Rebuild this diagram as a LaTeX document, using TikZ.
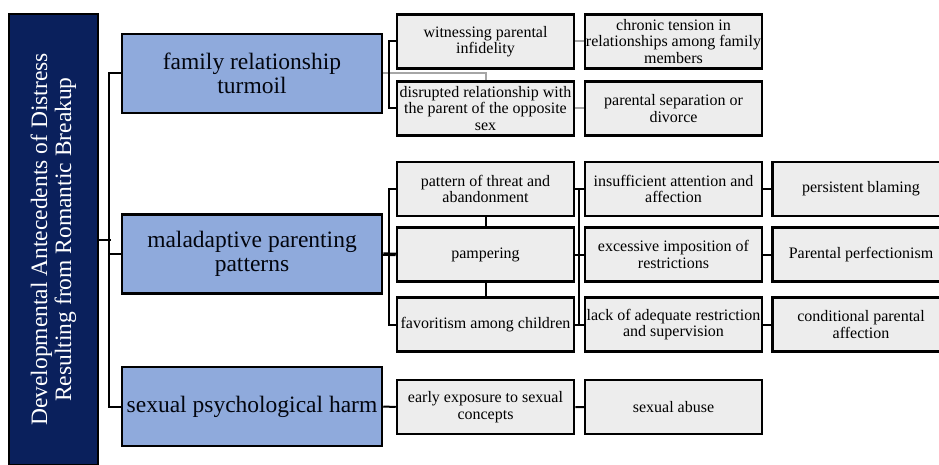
\documentclass[tikz,border=0pt]{standalone}
\usepackage{fontspec}
\setmainfont{Liberation Serif}
\definecolor{navy}{RGB}{10,32,92}
\definecolor{lblue}{RGB}{143,170,220}
\definecolor{lgray}{RGB}{237,237,237}
\begin{document}
\begin{tikzpicture}[x=1pt,y=-1pt,
    rootbox/.style={draw=black,line width=2pt,fill=navy,text=white,rotate=90,minimum width=451pt,minimum height=89pt,align=center,inner sep=0pt,font=\fontsize{23.5}{24}\selectfont},
    mainbox/.style={draw=black,line width=2.5pt,fill=lblue,text=black!85!navy,minimum width=260pt,minimum height=79pt,align=center,inner sep=0pt,font=\fontsize{23.5}{23.5}\selectfont},
    subbox/.style={draw=black,line width=2.5pt,fill=lgray,minimum width=177pt,minimum height=54pt,align=center,inner sep=0pt,font=\fontsize{16}{16.5}\selectfont},
    conn/.style={line width=2pt},
    gconn/.style={line width=2pt,draw=black!35}]
    \useasboundingbox(0,0) rectangle (939,465);
    \node[rootbox](root) at (53.5,239.5){Developmental Antecedents of Distress\\Resulting from Romantic Breakup};
    \node[mainbox](fam) at (252,73.5){family relationship\\turmoil};
    \node[mainbox](mal) at (252,254){maladaptive parenting\\patterns};
    \node[mainbox](sex) at (252,406.5){sexual psychological harm};
    \node[subbox](wit) at (485.5,41.5){witnessing parental\\infidelity};
    \node[subbox](dis) at (485.5,108.5){disrupted relationship with\\the parent of the opposite\\sex};
    \node[subbox](pat) at (485.5,189){pattern of threat and\\abandonment};
    \node[subbox](pam) at (485.5,254.5){pampering};
    \node[subbox](fav) at (485.5,324.5){favoritism among children};
    \node[subbox](early) at (485.5,407){early exposure to sexual\\concepts};
    \node[subbox](chr) at (673.5,41.5){chronic tension in\\relationships among family\\members};
    \node[subbox](sep) at (673.5,108.5){parental separation or\\divorce};
    \node[subbox](ins) at (673.5,189){insufficient attention and\\affection};
    \node[subbox](exc) at (673.5,254.5){excessive imposition of\\restrictions};
    \node[subbox](lack) at (673.5,324.5){lack of adequate restriction\\and supervision};
    \node[subbox](abuse) at (673.5,407){sexual abuse};
    \node[subbox](blame) at (861,189){persistent blaming};
    \node[subbox](perf) at (861,254.5){Parental perfectionism};
    \node[subbox](cond) at (861,324.5){conditional parental\\affection};

    \draw[conn](root.south)--++(12,0)coordinate(trunk);
    \draw[conn](fam.west)--++(-12,0)|-(sex.west);
    \draw[conn](mal.west)--++(-12,0);
    \draw[gconn](fam.east)-|(dis.north);
    \draw[gconn](wit.east)--(chr.west);
    \draw[gconn](dis.east)--(sep.west);
    \draw[conn](wit.west)--++(-7,0)|-(dis.west);
    \draw[line width=3.5pt](mal.east)--(pam.west);
    \draw[conn](pat.west)--++(-7,0)|-(fav.west);
    \draw[conn](pat.south)--(pam.north) (pam.south)--(fav.north);
    \draw[conn](pat.east)--(ins.west) (pam.east)--(exc.west) (fav.east)--(lack.west);
    \draw[conn]([xshift=4pt]pat.east)--([xshift=4pt]fav.east);
    \draw[conn](ins.east)--(blame.west) (exc.east)--(perf.west) (lack.east)--(cond.west);
    \draw[conn](sex.east)--(early.west) (early.east)--(abuse.west);
\end{tikzpicture}
\end{document}
